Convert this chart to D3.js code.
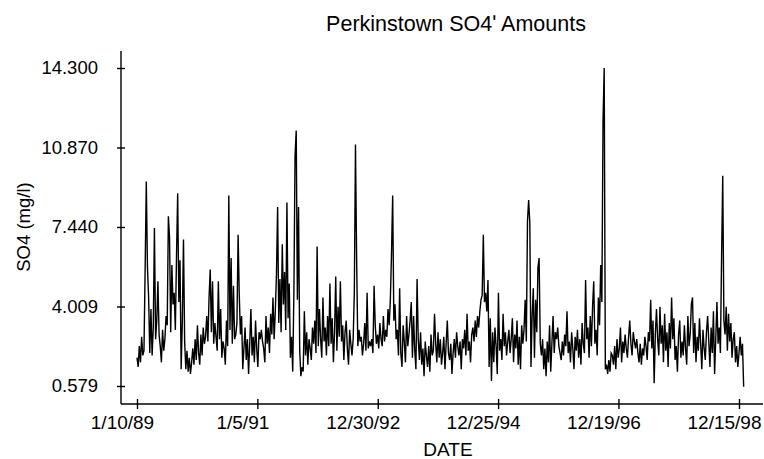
<!DOCTYPE html>
<html>
<head>
<meta charset="utf-8">
<script src="https://cdn.jsdelivr.net/npm/d3@7"></script>
<style>
  body { margin: 0; background: #fff; }
  text { font-family: "Liberation Sans", Arial, sans-serif; fill: #000; }
</style>
</head>
<body>
<div id="js_chart"></div>
<script>
//
// Data
//

// weekly samples, first one on 1/10/89
var firstDate = "1989-01-10";
var stepDays = 7;

var so4Values = [
  1.8, 1.4, 2.3, 1.6, 2.7, 1.9, 2.1, 5.6, 9.4, 5.7,
  4.4, 2.0, 3.9, 1.9, 3.1, 7.4, 2.6, 3.4, 5.1, 2.8,
  2.3, 1.6, 3.0, 2.1, 2.6, 3.6, 3.2, 7.9, 7.0, 2.9,
  5.8, 4.1, 4.6, 3.0, 6.2, 8.9, 4.2, 6.0, 1.3, 3.4,
  6.9, 2.5, 1.3, 2.1, 1.2, 1.8, 1.1, 1.6, 2.2, 1.5,
  2.6, 1.7, 3.2, 2.0, 1.5, 2.8, 1.9, 3.1, 2.4, 2.7,
  3.6, 2.5, 4.4, 5.6, 2.9, 5.1, 2.4, 3.3, 2.7, 2.1,
  5.1, 2.6, 3.9, 1.8, 2.5, 2.2, 1.5, 3.4, 2.3, 8.8,
  3.0, 6.1, 2.4, 4.9, 2.6, 2.8, 3.3, 7.1, 4.5, 2.8,
  3.6, 1.3, 2.2, 3.1, 1.7, 2.6, 1.1, 2.4, 3.9, 1.9,
  2.7, 1.6, 3.4, 2.2, 1.4, 2.9, 2.6, 3.0, 2.5, 2.2,
  1.6, 3.6, 2.4, 3.1, 2.0, 3.7, 2.8, 4.4, 2.6, 3.8,
  5.4, 8.3, 3.3, 5.2, 2.9, 6.7, 4.1, 5.5, 3.0, 8.5,
  3.5, 5.0, 1.8, 2.7, 1.2, 4.6, 10.5, 11.6, 4.3, 8.3,
  2.1, 1.0, 1.4, 1.2, 3.8, 1.9, 2.9, 1.5, 2.6, 2.2,
  1.7, 3.1, 2.4, 3.4, 2.0, 6.6, 2.3, 3.9, 2.6, 1.8,
  4.4, 2.5, 3.1, 1.9, 3.6, 2.3, 5.0, 2.4, 3.5, 1.6,
  2.9, 5.3, 2.1, 4.0, 2.7, 5.1, 2.5, 3.2, 1.7, 2.9,
  3.4, 2.2, 1.5, 3.0, 2.4, 1.9, 2.6, 4.6, 11.0, 6.0,
  2.3, 3.0, 2.5, 2.7, 1.9, 2.4, 3.3, 2.1, 4.6, 2.2,
  2.5, 2.3, 2.6, 2.0, 4.9, 3.2, 2.4, 2.8, 2.2, 3.3,
  2.6, 2.3, 3.6, 2.5, 3.0, 2.7, 3.9, 3.2, 4.3, 6.3,
  8.8, 3.4, 4.1, 2.6, 3.0, 1.9, 4.8, 2.0, 1.4, 3.2,
  2.5, 1.6, 3.6, 2.3, 2.8, 3.4, 4.2, 1.8, 3.6, 2.1,
  1.3, 5.2, 2.6, 1.7, 2.9, 1.5, 2.2, 1.0, 2.5, 1.9,
  1.4, 2.3, 1.2, 2.8, 1.9, 2.1, 3.7, 2.4, 1.6, 2.9,
  1.8, 2.6, 1.5, 2.0, 2.7, 1.3, 2.4, 3.4, 2.0, 1.7,
  2.4, 1.1, 2.0, 2.6, 1.8, 2.9, 2.3, 1.9, 2.5, 1.3,
  2.6, 2.2, 3.0, 1.9, 3.7, 2.1, 2.5, 1.6, 2.8, 3.1,
  2.5, 3.4, 2.7, 3.6, 3.1, 3.8, 4.3, 4.5, 7.1, 4.2,
  4.6, 3.8, 5.15, 1.4, 3.5, 0.8, 2.9, 1.6, 3.1, 2.3,
  1.1, 4.6, 2.1, 2.6, 1.7, 3.7, 2.3, 2.9, 1.9, 2.5,
  3.0, 2.0, 2.6, 3.5, 1.6, 2.8, 2.2, 3.4, 1.5, 2.7,
  1.3, 3.2, 2.4, 3.0, 4.3, 2.5, 7.7, 8.6, 7.6, 1.4,
  3.6, 4.8, 1.8, 4.3, 2.9, 5.7, 6.1, 2.4, 1.9, 2.6,
  1.3, 2.2, 1.0, 2.5, 1.6, 3.2, 1.2, 2.4, 3.6, 2.0,
  2.9, 2.6, 3.1, 2.3, 2.0, 1.7, 2.5, 1.9, 2.8, 2.3,
  3.8, 2.0, 2.5, 1.6, 2.9, 2.2, 1.3, 2.7, 2.1, 3.0,
  1.8, 2.6, 1.5, 3.3, 2.4, 2.0, 5.15, 2.6, 3.1, 1.8,
  3.6, 2.3, 4.0, 5.1, 2.4, 3.0, 1.9, 4.4, 3.2, 5.8,
  4.2, 12.0, 14.3, 1.3, 1.5, 1.1, 1.7, 1.2, 2.0, 1.9,
  1.5, 2.3, 1.3, 2.6, 1.8, 2.2, 3.1, 1.6, 2.5, 2.0,
  2.8, 2.2, 1.8, 2.7, 3.4, 2.4, 1.9, 2.9, 2.5, 2.2,
  2.6, 2.0, 1.6, 2.4, 1.5, 2.2, 1.9, 2.7, 2.3, 1.7,
  2.9, 2.5, 4.3, 2.2, 3.4, 0.7, 2.8, 3.9, 2.6, 1.9,
  4.0, 2.4, 3.2, 1.6, 3.7, 2.1, 2.9, 1.4, 3.3, 2.2,
  4.4, 2.6, 3.5, 1.7, 2.3, 1.2, 2.8, 3.4, 1.8, 2.5,
  1.9, 3.2, 2.2, 1.5, 3.6, 2.3, 2.8, 4.1, 4.4, 2.0,
  3.3, 1.6, 2.7, 2.1, 3.5, 2.4, 1.3, 3.0, 2.2, 1.7,
  2.9, 3.6, 2.5, 1.4, 3.1, 2.0, 3.8, 1.1, 2.6, 4.2,
  2.4, 3.1, 2.0, 6.1, 9.65, 3.4, 2.8, 4.0, 2.1, 3.7,
  2.5, 3.3, 1.8, 2.6, 2.9, 1.6, 2.3, 1.4, 2.0, 2.7,
  1.9, 2.4, 0.55
];

var xTickDates = ["1989-01-10", "1991-01-05", "1992-12-30", "1994-12-25", "1996-12-19", "1998-12-15"];
var xTickLabels = ["1/10/89", "1/5/91", "12/30/92", "12/25/94", "12/19/96", "12/15/98"];
var yTickValues = [0.579, 4.009, 7.440, 10.870, 14.300];

var titleText = "Perkinstown SO4\u02B9 Amounts";
var xTitle = "DATE";
var yTitle = "SO4 (mg/l)";

//
// Drawing
//

var width = 764, height = 459;
var axisX = 121, axisY = 404;

var parseDate = d3.utcParse("%Y-%m-%d");
var startDate = parseDate(firstDate);

var points = so4Values.map(function (v, i) {
    return { date: d3.utcDay.offset(startDate, i * stepDays), value: v };
});

var tickDates = xTickDates.map(parseDate);

var x = d3.scaleUtc()
    .domain([tickDates[0], tickDates[tickDates.length - 1]])
    .range([137, 739]);

var y = d3.scaleLinear()
    .domain([yTickValues[0], yTickValues[yTickValues.length - 1]])
    .range([386, 68]);

var svg = d3.select("#js_chart").append("svg")
    .attr("width", width)
    .attr("height", height);

// title
svg.append("text")
    .attr("x", 456)
    .attr("y", 31)
    .attr("text-anchor", "middle")
    .style("font-size", "21.5px")
    .text(titleText);

// axis lines
svg.append("line")
    .attr("x1", axisX).attr("y1", 51)
    .attr("x2", axisX).attr("y2", axisY)
    .attr("stroke", "#000").attr("stroke-width", 1.4);

svg.append("line")
    .attr("x1", axisX).attr("y1", axisY)
    .attr("x2", 763).attr("y2", axisY)
    .attr("stroke", "#000").attr("stroke-width", 1.4);

// y axis ticks, crossing the axis line
var yAxis = d3.axisLeft(y)
    .tickValues(yTickValues)
    .tickFormat(d3.format(".3f"))
    .tickSize(4)
    .tickPadding(19);

var gy = svg.append("g")
    .attr("transform", "translate(" + axisX + ",0)")
    .call(yAxis);
gy.select(".domain").remove();
gy.selectAll(".tick line").attr("x1", -4).attr("x2", 4).attr("stroke-width", 1.4);
gy.selectAll(".tick text")
    .style("font-size", "18.5px")
    .style("font-family", "'Liberation Sans', Arial, sans-serif");

// x axis ticks, labels sit a bit left of their tick
var xAxis = d3.axisBottom(x)
    .tickValues(tickDates)
    .tickFormat(function (d, i) { return xTickLabels[i]; })
    .tickSize(5)
    .tickPadding(7);

var gx = svg.append("g")
    .attr("transform", "translate(0," + axisY + ")")
    .call(xAxis);
gx.select(".domain").remove();
gx.selectAll(".tick line").attr("y1", -5).attr("y2", 5).attr("stroke-width", 1.4);
gx.selectAll(".tick text")
    .attr("x", -15)
    .style("font-size", "19px")
    .style("font-family", "'Liberation Sans', Arial, sans-serif");

// axis titles
svg.append("text")
    .attr("x", 448)
    .attr("y", 456)
    .attr("text-anchor", "middle")
    .style("font-size", "19px")
    .text(xTitle);

svg.append("text")
    .attr("transform", "translate(30,227) rotate(-90)")
    .attr("text-anchor", "middle")
    .style("font-size", "18.5px")
    .text(yTitle);

// the series
var line = d3.line()
    .x(function (d) { return x(d.date); })
    .y(function (d) { return y(d.value); });

svg.append("path")
    .datum(points)
    .attr("fill", "none")
    .attr("stroke", "#000")
    .attr("stroke-width", 1.4)
    .attr("d", line);
</script>
</body>
</html>
